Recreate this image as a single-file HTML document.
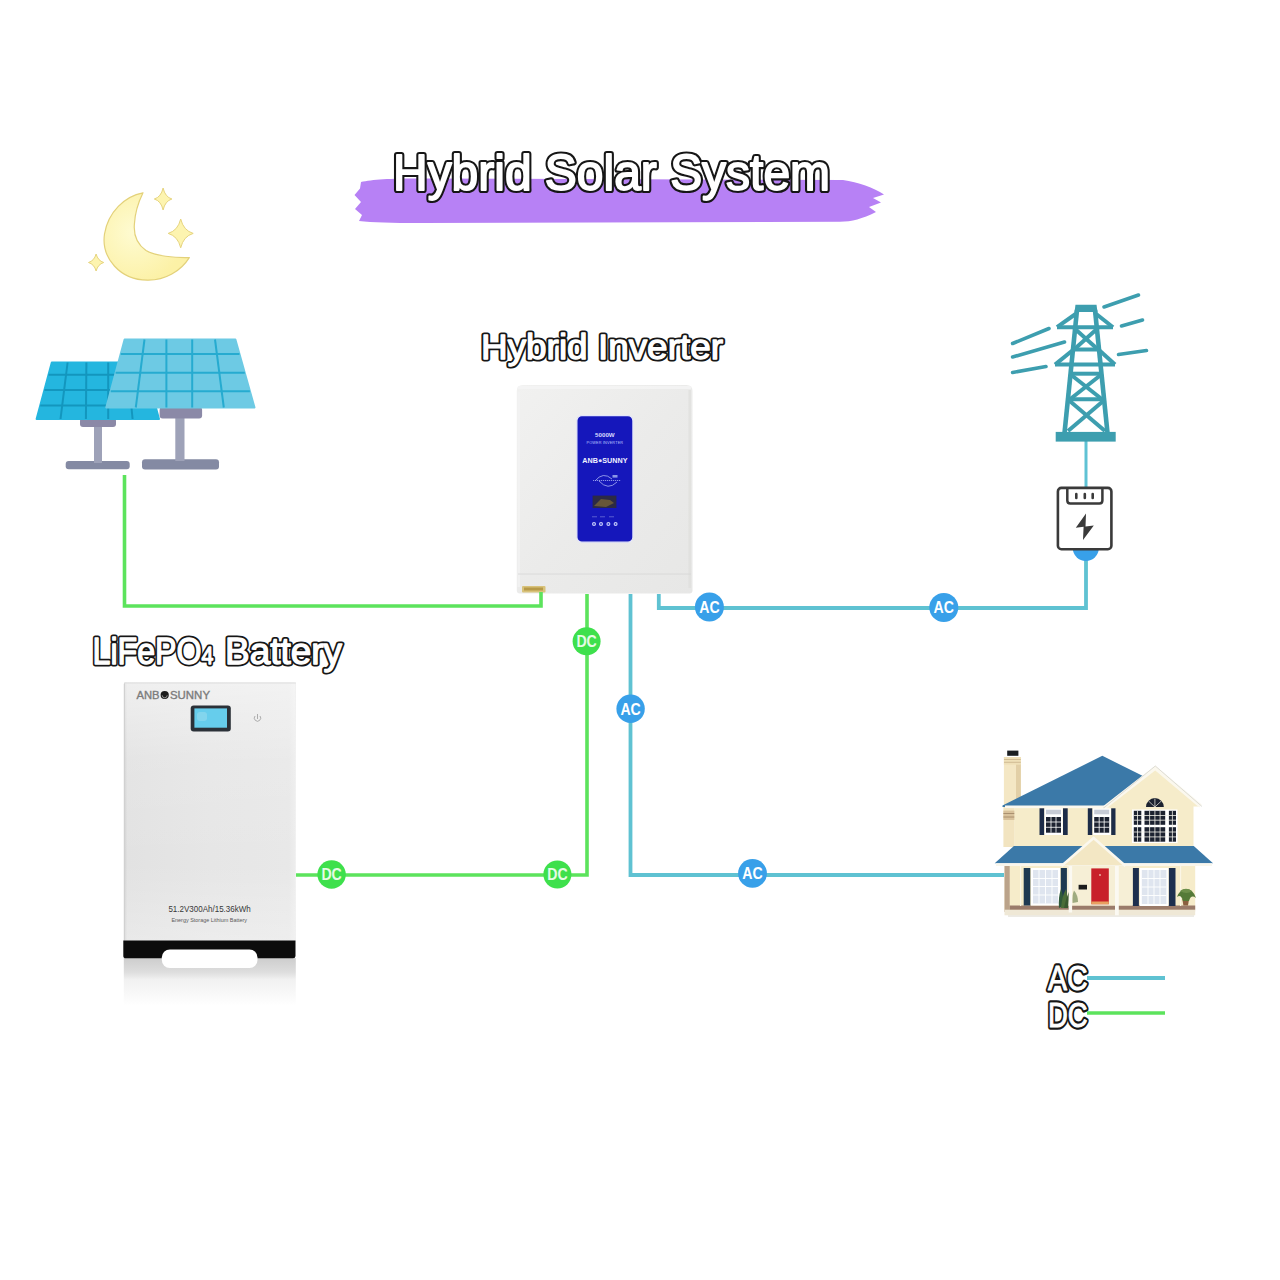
<!DOCTYPE html>
<html><head><meta charset="utf-8">
<style>
html,body{margin:0;padding:0;background:#fff;width:1280px;height:1280px;overflow:hidden}
svg{position:absolute;left:0;top:0;display:block}
text{font-family:"Liberation Sans",sans-serif}
.olb{fill:#161616;stroke:#161616;stroke-linejoin:round}
.olw{fill:#fff;stroke:#fff;stroke-linejoin:round}
</style></head><body>
<svg width="1280" height="1280" viewBox="0 0 1280 1280">
<defs>
<linearGradient id="invg" x1="0" y1="0" x2="1" y2="1">
<stop offset="0" stop-color="#f1f1f0"/><stop offset="0.5" stop-color="#ebebea"/><stop offset="1" stop-color="#e7e7e6"/>
</linearGradient>
<linearGradient id="batg" x1="0" y1="0" x2="1" y2="0">
<stop offset="0" stop-color="#cdcdcd"/><stop offset="0.02" stop-color="#e2e2e2"/><stop offset="0.5" stop-color="#e6e6e6"/><stop offset="0.96" stop-color="#e8e8e8"/><stop offset="1" stop-color="#eeeeee"/>
</linearGradient>
<linearGradient id="batv" x1="0" y1="0" x2="0" y2="1">
<stop offset="0" stop-color="#ffffff" stop-opacity="0.45"/><stop offset="0.3" stop-color="#ffffff" stop-opacity="0.1"/><stop offset="0.7" stop-color="#ffffff" stop-opacity="0"/><stop offset="1" stop-color="#ffffff" stop-opacity="0.25"/>
</linearGradient>
<linearGradient id="refl" x1="0" y1="0" x2="0" y2="1">
<stop offset="0" stop-color="#cdcdcd"/><stop offset="0.3" stop-color="#dedede"/><stop offset="0.45" stop-color="#f1f1f1"/><stop offset="1" stop-color="#ffffff"/>
</linearGradient>
</defs>

<!-- title brush -->
<path id="brush" d="M361,182 C372,179.5 390,178.5 420,178.5 L843,180 C858,182 874,188 884,194.5 L873,198 L881,202.5 L869,207 L876,212 C862,219 852,221.5 840,221.8 L420,223 C392,223 372,222.5 359,221 L362,215 L355,209 L361,202 L354.5,195 L360,188.5 Z" fill="#b781f5"/>
<text class="olb" x="393" y="190" font-size="50" textLength="437" lengthAdjust="spacingAndGlyphs" style="stroke-width:6.2">Hybrid Solar System</text>
<text class="olw" x="393" y="190" font-size="50" textLength="437" lengthAdjust="spacingAndGlyphs" style="stroke-width:1.8">Hybrid Solar System</text>

<!-- moon -->
<g id="moon">
<defs><radialGradient id="moong" cx="0.35" cy="0.45" r="0.6"><stop offset="0" stop-color="#fefbd2"/><stop offset="1" stop-color="#fcf1a6"/></radialGradient></defs>
<path d="M143,192.8 C125,196 108,212 104.5,234 C101,258 120,280 147.5,280.2 C165,280.5 181,271 189.3,257.6 C175,258 155,256 146,250.6 C137,244 133.5,234 134.4,224 C135,212 139,201 143,192.8 Z" fill="url(#moong)" stroke="#e3d17a" stroke-width="1.2" stroke-linejoin="round"/>
<path d="M163.1,188 Q165.1,197.0 171.9,199 Q165.1,201.0 163.1,210 Q161.1,201.0 154.29999999999998,199 Q161.1,197.0 163.1,188 Z" fill="#fdf4b0" stroke="#e6d47e" stroke-width="1"/>
<path d="M180.7,219.0 Q183.5,230.6 193.2,233.4 Q183.5,236.20000000000002 180.7,247.8 Q177.89999999999998,236.20000000000002 168.2,233.4 Q177.89999999999998,230.6 180.7,219.0 Z" fill="#fdf4b0" stroke="#e6d47e" stroke-width="1"/>
<path d="M96.1,254.0 Q97.89999999999999,260.7 103.69999999999999,262.5 Q97.89999999999999,264.3 96.1,271.0 Q94.3,264.3 88.5,262.5 Q94.3,260.7 96.1,254.0 Z" fill="#fdf4b0" stroke="#e6d47e" stroke-width="1"/>
</g>

<g id="solar">
<rect x="65.7" y="461" width="64" height="8.3" rx="3" fill="#848aa3"/>
<rect x="94" y="425" width="8" height="38" fill="#9ea2b8"/>
<rect x="80" y="418" width="36" height="9" rx="3" fill="#8b89a7"/>
<path d="M51.8,362.5 L143.8,362.5 L159,419 L36.6,419 Z" fill="#24b6df" stroke="#24b6df" stroke-width="2" stroke-linejoin="round"/>
<line x1="67.6" y1="362.5" x2="60.5" y2="419" stroke="#1396be" stroke-width="2"/>
<line x1="86.4" y1="362.5" x2="85.9" y2="419" stroke="#1396be" stroke-width="2"/>
<line x1="108.2" y1="362.5" x2="108.2" y2="419" stroke="#1396be" stroke-width="2"/>
<line x1="127" y1="362.5" x2="132.6" y2="419" stroke="#1396be" stroke-width="2"/>
<line x1="48.5" y1="374.7" x2="147.1" y2="374.7" stroke="#1396be" stroke-width="2"/>
<line x1="44.4" y1="389.9" x2="151.2" y2="389.9" stroke="#1396be" stroke-width="2"/>
<line x1="40.2" y1="405.5" x2="155.4" y2="405.5" stroke="#1396be" stroke-width="2"/>
<rect x="142" y="459.3" width="77" height="10.2" rx="3" fill="#848aa3"/>
<rect x="175.3" y="416" width="9.2" height="45" fill="#9ea2b8"/>
<rect x="159.6" y="407" width="42.5" height="11.5" rx="3" fill="#8b89a7"/>
<path d="M124.6,339.5 L235.4,339.5 L254.5,407.5 L106.3,407.5 Z" fill="#6dcae4" stroke="#6dcae4" stroke-width="2" stroke-linejoin="round"/>
<line x1="144.5" y1="339.5" x2="135.8" y2="407.5" stroke="#26abd0" stroke-width="2"/>
<line x1="166.4" y1="339.5" x2="166.4" y2="407.5" stroke="#26abd0" stroke-width="2"/>
<line x1="192.2" y1="339.5" x2="192.2" y2="407.5" stroke="#26abd0" stroke-width="2"/>
<line x1="215" y1="339.5" x2="223.8" y2="407.5" stroke="#26abd0" stroke-width="2"/>
<line x1="120.7" y1="354" x2="239.5" y2="354" stroke="#26abd0" stroke-width="2"/>
<line x1="115.6" y1="372.8" x2="244.8" y2="372.8" stroke="#26abd0" stroke-width="2"/>
<line x1="110.7" y1="391.3" x2="249.9" y2="391.3" stroke="#26abd0" stroke-width="2"/>
</g>

<g id="inverter">
<path d="M522.8,385 L686.5,385 Q692.5,385 692.5,391 L692.5,590.6 Q692.5,593.6 689.5,593.6 L519.8,593.6 Q516.8,593.6 516.8,590.6 L516.8,391 Q516.8,385 522.8,385 Z" fill="url(#invg)"/>
<rect x="517.5" y="386" width="174" height="3" rx="1.5" fill="#f5f5f5" opacity="0.8"/>
<rect x="517.5" y="392" width="2.5" height="195" fill="#f3f3f3" opacity="0.8"/>
<rect x="688.5" y="390" width="2.5" height="198" fill="#dededc" opacity="0.7"/>
<line x1="518" y1="574" x2="691" y2="574" stroke="#d6d6d6" stroke-width="0.8"/>
<rect x="522" y="586" width="23.5" height="6.5" rx="1" fill="#d8c27a"/>
<rect x="524" y="587.5" width="19" height="3" fill="#b79a48"/>
<rect x="576.9" y="415.7" width="56" height="126.5" rx="5" fill="#1517bb" stroke="#e4e6fa" stroke-width="1.2"/>
<text x="604.9" y="437.3" font-size="6.2" font-weight="bold" fill="#d8dcff" text-anchor="middle">5000W</text>
<text x="604.9" y="443.5" font-size="3.8" fill="#b8c0ff" text-anchor="middle" letter-spacing="0.15">POWER INVERTER</text>
<text x="604.9" y="462.6" font-size="7.2" font-weight="bold" fill="#f0f2ff" text-anchor="middle">ANB<tspan fill="#dfe3ff">●</tspan>SUNNY</text>
<g fill="none" stroke="#a9b2f2" stroke-width="0.8">
<path d="M595,481 Q603,471 612,479"/>
<path d="M599,481 Q608,491 617,482"/>
<line x1="593" y1="480.5" x2="621" y2="480.5" stroke-dasharray="1.2,0.8"/>
</g>
<rect x="612.5" y="475" width="5" height="2.6" fill="#8b97e6"/>
<rect x="592.6" y="495.6" width="23.8" height="12.4" fill="#2c2a44"/>
<path d="M594,506 L601,499 L610,500 L614,503 L606,507 Z" fill="#7a6634" opacity="0.75"/>
<g fill="#b8bff4" opacity="0.6"><rect x="592" y="516.5" width="5" height="0.7"/><rect x="600" y="516.5" width="5" height="0.7"/><rect x="609" y="516.5" width="5" height="0.7"/></g>
<g fill="#c9cffa">
<circle cx="594" cy="524" r="2"/><circle cx="601" cy="524" r="2"/><circle cx="608.4" cy="524" r="2"/><circle cx="615.6" cy="524" r="2"/>
</g>
<g fill="#3a42d0">
<circle cx="594" cy="524" r="0.9"/><circle cx="601" cy="524" r="0.9"/><circle cx="608.4" cy="524" r="0.9"/><circle cx="615.6" cy="524" r="0.9"/>
</g>
</g>
</g>


<g id="battery">
<rect x="123.8" y="958" width="172" height="48" fill="url(#refl)"/>
<rect x="123.8" y="682.5" width="172" height="260" rx="1.5" fill="url(#batg)"/>
<rect x="125" y="683" width="170" height="258" fill="url(#batv)"/>
<line x1="124" y1="683" x2="296" y2="683" stroke="#dedede" stroke-width="1"/>
<path d="M123.3,940.5 L295.5,940.5 L295.5,956 Q295.5,958.3 293,958.3 L126,958.3 Q123.3,958.3 123.3,956 Z" fill="#0c0c0c"/>
<rect x="161.8" y="949.4" width="95.7" height="18.6" rx="8" fill="#ffffff"/>
<text x="136.5" y="698.8" font-size="10.4" fill="#7c7c7c" textLength="23" lengthAdjust="spacingAndGlyphs" stroke="#7c7c7c" stroke-width="0.35">ANB</text>
<circle cx="164.7" cy="695" r="4.1" fill="#1c1c1c"/><path d="M162.2,695.3 A2.5,2.5 0 0 0 167.2,695.3" fill="none" stroke="#dcdcdc" stroke-width="0.6"/>
<text x="170" y="698.8" font-size="10.4" fill="#7c7c7c" textLength="40" lengthAdjust="spacingAndGlyphs" stroke="#7c7c7c" stroke-width="0.35">SUNNY</text>
<rect x="190.7" y="705.4" width="40.1" height="26" rx="3" fill="#2b3138"/>
<rect x="194.4" y="708.4" width="32.6" height="19.3" fill="#66cdec"/>
<rect x="197" y="712" width="10" height="9" rx="3" fill="#8fd8ee" opacity="0.7"/>
<path d="M255,716 A3.2,3.2 0 1 0 260,716" fill="none" stroke="#9a9a9a" stroke-width="0.8"/>
<line x1="257.5" y1="714" x2="257.5" y2="719" stroke="#9a9a9a" stroke-width="0.8"/>
<text x="168.4" y="912.3" font-size="9" fill="#383838" textLength="82.4" lengthAdjust="spacingAndGlyphs">51.2V300Ah/15.36kWh</text>
<text x="171.4" y="922.3" font-size="5.2" fill="#5a5a5a" textLength="75.7" lengthAdjust="spacingAndGlyphs">Energy Storage Lithium Battery</text>
</g>


<!-- lines -->
<g fill="none" stroke-linejoin="miter">
<polyline points="124.5,475 124.5,606 541,606 541,592" stroke="#5ce35c" stroke-width="3.6"/>
<polyline points="296,875 587,875 587,594" stroke="#5ce35c" stroke-width="3.6"/>
<polyline points="630.5,594 630.5,875 1004,875" stroke="#5fc2d2" stroke-width="3.8"/>
<polyline points="658.8,594 658.8,608 1086,608 1086,549" stroke="#5fc2d2" stroke-width="3.8"/>
<line x1="1086" y1="441" x2="1086" y2="487" stroke="#5fc2d4" stroke-width="3"/>
</g>

<!-- badges -->
<g font-weight="bold" font-size="16.5">
<circle cx="586.6" cy="641.3" r="14" fill="#3ee04c"/><text x="576.4" y="647.1" fill="#e6fbe6" textLength="20.4" lengthAdjust="spacingAndGlyphs">DC</text>
<circle cx="331.6" cy="874.5" r="14.2" fill="#3ee04c"/><text x="321.4" y="880.3" fill="#e6fbe6" textLength="20.4" lengthAdjust="spacingAndGlyphs">DC</text>
<circle cx="557.4" cy="874.5" r="14" fill="#3ee04c"/><text x="547.2" y="880.3" fill="#e6fbe6" textLength="20.4" lengthAdjust="spacingAndGlyphs">DC</text>
<circle cx="709.4" cy="607" r="14.5" fill="#38a0e9"/><text x="699.2" y="612.8" fill="#ffffff" textLength="20.4" lengthAdjust="spacingAndGlyphs">AC</text>
<circle cx="943.8" cy="607.5" r="14.5" fill="#38a0e9"/><text x="933.6" y="613.3" fill="#ffffff" textLength="20.4" lengthAdjust="spacingAndGlyphs">AC</text>
<circle cx="630.6" cy="708.8" r="14.2" fill="#38a0e9"/><text x="620.4" y="714.6" fill="#ffffff" textLength="20.4" lengthAdjust="spacingAndGlyphs">AC</text>
<circle cx="752.5" cy="873.4" r="14.4" fill="#38a0e9"/><text x="742.3" y="879.2" fill="#ffffff" textLength="20.4" lengthAdjust="spacingAndGlyphs">AC</text>
<circle cx="1085.8" cy="548" r="13" fill="#38a0e9"/>
</g>

<g id="tower" stroke="#3d9eaf" fill="none" stroke-linecap="round">
<g stroke-width="3.6">
<line x1="1012.6" y1="343.5" x2="1049" y2="328.5"/>
<line x1="1012.6" y1="357" x2="1064.5" y2="342"/>
<line x1="1012.6" y1="372.5" x2="1046" y2="366.5"/>
<line x1="1104" y1="307" x2="1138.5" y2="295"/>
<line x1="1121.5" y1="326" x2="1142.5" y2="320"/>
<line x1="1118.5" y1="354.5" x2="1146.5" y2="350.5"/>
</g>
<g stroke-width="4" stroke-linecap="butt">
<line x1="1077" y1="310" x2="1064.5" y2="433" stroke-width="4.6"/>
<line x1="1095" y1="310" x2="1107.5" y2="433" stroke-width="4.6"/>
<line x1="1057" y1="327.2" x2="1113" y2="327.2"/>
<line x1="1077" y1="313" x2="1057" y2="327.2"/>
<line x1="1095" y1="313" x2="1113" y2="327.2"/>
<line x1="1074" y1="328" x2="1098" y2="349.5"/>
<line x1="1098" y1="328" x2="1074" y2="349.5"/>
<line x1="1072.5" y1="349.5" x2="1099.5" y2="349.5"/>
<line x1="1055" y1="364.6" x2="1115" y2="364.6"/>
<line x1="1073" y1="350" x2="1055" y2="364.6"/>
<line x1="1099" y1="350" x2="1115" y2="364.6"/>
<line x1="1070" y1="373.7" x2="1102" y2="373.7"/>
<line x1="1070" y1="374" x2="1102" y2="399.2"/>
<line x1="1102" y1="374" x2="1070" y2="399.2"/>
<line x1="1068" y1="399.2" x2="1104" y2="399.2"/>
<line x1="1068" y1="399.5" x2="1105" y2="431"/>
<line x1="1105" y1="399.5" x2="1068" y2="431"/>
</g>
<path d="M1075.5,304.7 L1096.5,304.7 L1097.5,312 L1074.5,312 Z" fill="#3d9eaf" stroke="none"/>
<rect x="1055.7" y="431.9" width="60" height="9.7" fill="#3d9eaf" stroke="none"/>
</g>
<g id="meter">
<rect x="1057.9" y="487.9" width="53.5" height="61.3" rx="3.5" fill="#fff" stroke="#3a3a3a" stroke-width="2.6"/>
<path d="M1067.3,488 L1067.3,500.5 Q1067.3,503.5 1070.3,503.5 L1099.4,503.5 Q1102.4,503.5 1102.4,500.5 L1102.4,488" fill="none" stroke="#3a3a3a" stroke-width="2.5"/>
<g stroke="#3a3a3a" stroke-width="2.6" stroke-linecap="round">
<line x1="1076.3" y1="494" x2="1076.3" y2="498"/>
<line x1="1084.8" y1="494" x2="1084.8" y2="498"/>
<line x1="1092.7" y1="494" x2="1092.7" y2="498"/>
</g>
<path d="M1086,513.5 L1075.8,527.8 L1083.6,526.8 L1083,540 L1093.8,525.5 L1085.5,526.4 Z" fill="#3a3a3a"/>
</g>


<g id="house">
<!-- ground shadow -->
<rect x="1008" y="913" width="186" height="4" fill="#e9e6de" opacity="0.8"/>
<!-- chimney -->
<rect x="1003.9" y="757" width="17" height="48" fill="#f4e7c4"/>
<rect x="1016" y="764" width="4.8" height="40" fill="#e2cfa6"/>
<rect x="1003.9" y="757" width="17" height="7.7" fill="#efe0b8"/>
<line x1="1004" y1="759.5" x2="1020.8" y2="759.5" stroke="#c9b28a" stroke-width="0.8"/>
<line x1="1004" y1="762.3" x2="1020.8" y2="762.3" stroke="#c9b28a" stroke-width="0.8"/>
<rect x="1007.2" y="750.6" width="11.2" height="5.2" fill="#1a1e22"/>
<rect x="1003.4" y="805" width="11.3" height="42" fill="#f2e4c0"/>
<rect x="1003.4" y="810.6" width="11.3" height="9.4" fill="#d9c29c"/>
<line x1="1003.4" y1="813.5" x2="1014.7" y2="813.5" stroke="#a58a6a" stroke-width="0.9"/>
<line x1="1003.4" y1="817" x2="1014.7" y2="817" stroke="#a58a6a" stroke-width="0.9"/>
<!-- upper wall -->
<rect x="1014.5" y="806" width="179" height="40" fill="#f6ecca"/>
<!-- main roof -->
<path d="M1002.5,805.5 L1102.3,755.8 L1146,777.5 L1108,807 L1002.5,807 Z" fill="#3b79a8"/>
<rect x="1005" y="805.5" width="105" height="2.6" fill="#fbf8ee"/>
<!-- right gable -->
<path d="M1106.5,807.5 L1155.3,769 L1199,806.5 L1192.8,806.5 L1192.8,846 L1116.4,846 L1116.4,807.5 Z" fill="#f6ecca"/>
<path d="M1104.5,807.5 L1155.3,768 L1200.5,806" fill="none" stroke="#fbf8ee" stroke-width="3.8" stroke-linejoin="miter"/>
<path d="M1103,808.5 L1155.3,766 L1202,806.5" fill="none" stroke="#d0d0c8" stroke-width="0.7"/>
<!-- arch window -->
<path d="M1146,807 A8.9,8.9 0 0 1 1163.8,807 Z" fill="#1c2230"/>
<g stroke="#f2f0e6" stroke-width="0.7"><line x1="1154.9" y1="807" x2="1154.9" y2="798.5"/><line x1="1154.9" y1="807" x2="1148.5" y2="801"/><line x1="1154.9" y1="807" x2="1161.3" y2="801"/></g>
<!-- big window group -->
<rect x="1132" y="809.5" width="45.5" height="33.5" fill="#ffffff"/>
<g fill="#1c2230">
<rect x="1133.8" y="810.8" width="7.5" height="14"/><rect x="1144.5" y="810.8" width="20.7" height="14"/><rect x="1168.9" y="810.8" width="7.1" height="14"/>
<rect x="1133.8" y="827.2" width="7.5" height="14.5"/><rect x="1144.5" y="827.2" width="20.7" height="14.5"/><rect x="1168.9" y="827.2" width="7.1" height="14.5"/>
</g>
<g stroke="#f3f1ea" stroke-width="0.8">
<line x1="1137.5" y1="810.8" x2="1137.5" y2="841.7"/><line x1="1172.4" y1="810.8" x2="1172.4" y2="841.7"/>
<line x1="1149.6" y1="810.8" x2="1149.6" y2="841.7"/><line x1="1154.9" y1="810.8" x2="1154.9" y2="841.7"/><line x1="1160.1" y1="810.8" x2="1160.1" y2="841.7"/>
<line x1="1133.8" y1="815.5" x2="1176" y2="815.5"/><line x1="1133.8" y1="820.2" x2="1176" y2="820.2"/>
<line x1="1133.8" y1="832" x2="1176" y2="832"/><line x1="1133.8" y1="836.9" x2="1176" y2="836.9"/>
</g>
<!-- upper windows -->
<g>
<rect x="1039.5" y="808.3" width="4.7" height="26.7" fill="#1d2c48"/><rect x="1063" y="808.3" width="4.7" height="26.7" fill="#1d2c48"/>
<rect x="1044.6" y="808.3" width="18" height="26.7" fill="#ffffff"/>
<rect x="1046" y="809.7" width="15" height="4.6" fill="#c7ccd6"/>
<rect x="1046" y="817" width="15" height="15.7" fill="#1c2230"/>
<g stroke="#fff" stroke-width="0.8"><line x1="1051" y1="817" x2="1051" y2="832.7"/><line x1="1056" y1="817" x2="1056" y2="832.7"/><line x1="1046" y1="822" x2="1061" y2="822"/><line x1="1046" y1="827.3" x2="1061" y2="827.3"/></g>
<rect x="1087.8" y="808.3" width="4.5" height="26.7" fill="#1d2c48"/><rect x="1111.2" y="808.3" width="4.3" height="26.7" fill="#1d2c48"/>
<rect x="1092.8" y="808.3" width="18" height="26.7" fill="#ffffff"/>
<rect x="1094.2" y="809.7" width="15" height="4.6" fill="#c7ccd6"/>
<rect x="1094.2" y="817" width="15" height="15.7" fill="#1c2230"/>
<g stroke="#fff" stroke-width="0.8"><line x1="1099.2" y1="817" x2="1099.2" y2="832.7"/><line x1="1104.2" y1="817" x2="1104.2" y2="832.7"/><line x1="1094.2" y1="822" x2="1109.2" y2="822"/><line x1="1094.2" y1="827.3" x2="1109.2" y2="827.3"/></g>
</g>
<!-- lower wall -->
<rect x="1004.5" y="865" width="190.7" height="46.6" fill="#f6ecca"/>
<rect x="1004.5" y="866" width="5.2" height="46" fill="#bba38a"/>
<rect x="1004.5" y="909.7" width="190.7" height="5.6" fill="#efe8d6"/>
<rect x="1009.7" y="905.5" width="185.5" height="4.2" fill="#9a7b6a"/>
<g fill="#fbf6e6"><rect x="1020" y="866" width="1.2" height="40"/><rect x="1180" y="866" width="1.2" height="40"/></g>
<!-- lower windows -->
<rect x="1023.7" y="868" width="6.6" height="37.5" fill="#1f3a52"/>
<rect x="1031" y="868" width="29" height="37.5" fill="#ffffff"/>
<rect x="1033" y="870" width="25" height="33.5" fill="#dfe5ef"/>
<g stroke="#fff" stroke-width="0.9"><line x1="1039" y1="870" x2="1039" y2="903.5"/><line x1="1045.5" y1="870" x2="1045.5" y2="903.5"/><line x1="1052" y1="870" x2="1052" y2="903.5"/><line x1="1033" y1="878.5" x2="1058" y2="878.5"/><line x1="1033" y1="886.5" x2="1058" y2="886.5"/><line x1="1033" y1="895" x2="1058" y2="895"/></g>
<rect x="1060.8" y="868" width="6.1" height="37.5" fill="#1f3a52"/>
<rect x="1132.8" y="868" width="6.1" height="38" fill="#1d2f4e"/>
<rect x="1139.8" y="868" width="28.6" height="38" fill="#ffffff"/>
<rect x="1141.8" y="870" width="24.6" height="34" fill="#dfe5ef"/>
<g stroke="#fff" stroke-width="0.9"><line x1="1148" y1="870" x2="1148" y2="904"/><line x1="1154" y1="870" x2="1154" y2="904"/><line x1="1160" y1="870" x2="1160" y2="904"/><line x1="1141.8" y1="878.5" x2="1166.4" y2="878.5"/><line x1="1141.8" y1="887" x2="1166.4" y2="887"/><line x1="1141.8" y1="895.5" x2="1166.4" y2="895.5"/></g>
<rect x="1168.9" y="868" width="6.6" height="38" fill="#1d2f4e"/>
<!-- porch area -->
<rect x="1067" y="865" width="65.5" height="40.5" fill="#f6efd6"/>
<rect x="1091.3" y="868.4" width="17.5" height="35.8" fill="#c8202a"/>
<rect x="1091.3" y="901.5" width="17.5" height="2.7" fill="#e8a060"/>
<circle cx="1100" cy="875" r="0.9" fill="#f0c0b0"/>
<rect x="1078.6" y="884.8" width="8.4" height="4.7" fill="#1b1b1b"/>
<!-- plants -->
<g>
<path d="M1059,908 Q1058,898 1061,889 Q1064,896 1063,906 Z" fill="#2f5a3a"/>
<path d="M1061,908 Q1062,896 1066,889 Q1068,898 1066,908 Z" fill="#4a6e38"/>
<path d="M1064,908 Q1066,898 1069,892 Q1069,900 1068,908 Z" fill="#3a5a30"/>
<path d="M1072.5,903 Q1072,895 1074,890.5 Q1078,895 1078,902 Z" fill="#8a9a6a" opacity="0.8"/>
<path d="M1182.3,899 L1189.1,899 L1188,905.4 L1183.4,905.4 Z" fill="#8a6040"/>
<path d="M1177,897 Q1180,889 1186,889 Q1193,889 1196,898 Q1191,894 1189,901 L1183,901 Q1181,894 1177,897 Z" fill="#557a38"/>
<path d="M1180,891 Q1186,886.5 1192,891 Q1187,895 1180,891 Z" fill="#6d8f4a"/>
</g>
<!-- pillars -->
<rect x="1068.7" y="865" width="3.4" height="47.5" fill="#fbf9f2"/>
<rect x="1115" y="864" width="3.8" height="51.3" fill="#fbf9f2"/>
<!-- porch roof -->
<path d="M994.7,863.3 L1013.9,845.9 L1193.75,845.9 L1213,863.3 Z" fill="#3b79a8"/>
<rect x="996" y="863.3" width="216" height="2.7" fill="#f9f6ec"/>
<!-- porch gable -->
<path d="M1063.1,865.2 L1093.6,838.4 L1123.9,865.2 Z" fill="#f3e7c4"/>
<path d="M1061.5,866 L1093.6,838 L1125.5,866" fill="none" stroke="#fbf8ee" stroke-width="2.6"/>
</g>


<!-- labels -->
<text class="olb" x="481" y="359" font-size="35" textLength="242" lengthAdjust="spacingAndGlyphs" style="stroke-width:5.0">Hybrid Inverter</text>
<text class="olw" x="481" y="359" font-size="35" textLength="242" lengthAdjust="spacingAndGlyphs" style="stroke-width:1.3">Hybrid Inverter</text>
<text class="olb" x="92.5" y="664" font-size="36" textLength="121" lengthAdjust="spacingAndGlyphs" style="stroke-width:5.0">LiFePO<tspan font-size="24">4</tspan></text>
<text class="olw" x="92.5" y="664" font-size="36" textLength="121" lengthAdjust="spacingAndGlyphs" style="stroke-width:1.3">LiFePO<tspan font-size="24">4</tspan></text>
<text class="olb" x="225" y="664" font-size="36" textLength="117" lengthAdjust="spacingAndGlyphs" style="stroke-width:5.0">Battery</text>
<text class="olw" x="225" y="664" font-size="36" textLength="117" lengthAdjust="spacingAndGlyphs" style="stroke-width:1.3">Battery</text>
<text class="olb" x="1048" y="990" font-size="35" textLength="39.6" lengthAdjust="spacingAndGlyphs" style="stroke-width:5.6">AC</text>
<text class="olw" x="1048" y="990" font-size="35" textLength="39.6" lengthAdjust="spacingAndGlyphs" style="stroke-width:1.0">AC</text>
<text class="olb" x="1048" y="1027" font-size="35" textLength="39.6" lengthAdjust="spacingAndGlyphs" style="stroke-width:5.6">DC</text>
<text class="olw" x="1048" y="1027" font-size="35" textLength="39.6" lengthAdjust="spacingAndGlyphs" style="stroke-width:1.0">DC</text>
<line x1="1087" y1="978" x2="1165" y2="978" stroke="#5fc2d2" stroke-width="3.8"/>
<line x1="1087" y1="1013" x2="1165" y2="1013" stroke="#5ce35c" stroke-width="3.6"/>

</svg>
</body></html>
